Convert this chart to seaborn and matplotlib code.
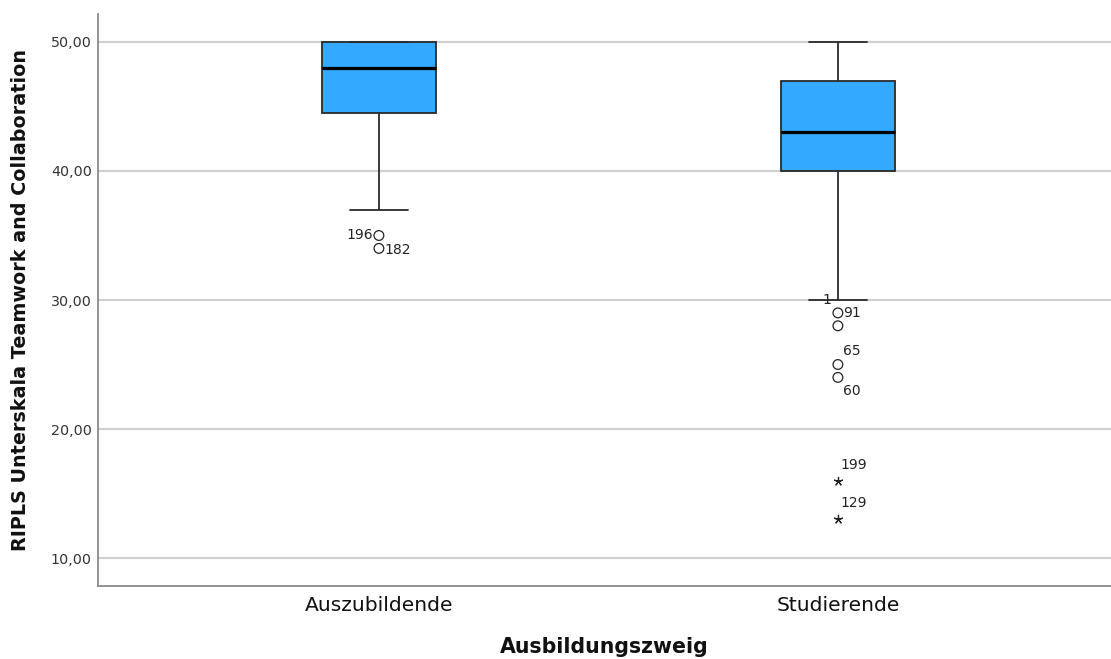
import matplotlib
matplotlib.use("Agg")
import matplotlib.pyplot as plt
import seaborn as sns
import pandas as pd
import numpy as np

# ---- data ----
categories = ["Auszubildende", "Studierende"]
scores_azubi = [34, 35, 37, 44.5, 46, 47, 48, 49, 50, 50, 50, 50, 50]
scores_stud = [13, 16, 24, 25, 28, 29, 30, 40, 40, 41, 41, 42, 42, 43, 43,
               43, 44, 44, 45, 45, 46, 47, 47, 48, 48, 49, 49, 50, 50]
# outliers (circles) and extremes (stars)
outlier_group = ["Auszubildende", "Auszubildende", "Studierende", "Studierende",
                 "Studierende", "Studierende"]
outlier_value = [35, 34, 29, 28, 25, 24]
extreme_group = ["Studierende", "Studierende"]
extreme_value = [16, 13]
# case labels
label_group = ["Auszubildende", "Auszubildende", "Studierende", "Studierende",
               "Studierende", "Studierende", "Studierende", "Studierende"]
label_value = [35, 34, 29, 29, 25, 24, 16, 13]
label_text = ["196", "182", "1", "91", "65", "60", "199", "129"]

yticks = [10, 20, 30, 40, 50]
ytick_labels = ["10,00", "20,00", "30,00", "40,00", "50,00"]

df = pd.DataFrame({
    "Ausbildungszweig": ["Auszubildende"] * len(scores_azubi) + ["Studierende"] * len(scores_stud),
    "score": scores_azubi + scores_stud,
})
df_out = pd.DataFrame({"g": outlier_group, "v": outlier_value})
df_ext = pd.DataFrame({"g": extreme_group, "v": extreme_value})

sns.set_theme(style="white")
plt.rcParams["font.family"] = ["DejaVu Sans"]

fig = plt.figure(figsize=(11.11, 6.59), dpi=100)
ax = fig.add_axes([98 / 1111, 1 - 586 / 659, 1 - 98 / 1111, (586 - 14) / 659])

ax.set_axisbelow(True)
for t in yticks:
    ax.axhline(t, color="#cfcfcf", lw=1.5, zorder=0)

box_color = "#33aaff"
sns.boxplot(data=df, x="Ausbildungszweig", y="score", order=categories,
            width=0.25, whis=1.5, showfliers=False, color=box_color,
            saturation=1, linecolor="#2a2a2a", linewidth=1.3,
            medianprops=dict(color="black", linewidth=2.3),
            ax=ax, zorder=2)

sns.stripplot(data=df_out, x="g", y="v", order=categories, jitter=False,
              marker="o", s=7, facecolor="none", edgecolor="#222222",
              linewidth=0.9, ax=ax, zorder=3)
sns.stripplot(data=df_ext, x="g", y="v", order=categories, jitter=False,
              marker=(5, 2, 0), s=6, color="#222222", linewidth=0.9,
              ax=ax, zorder=3)

offsets = {
    "196": (-4, 0, "right"),
    "182": (4, -1, "left"),
    "1": (-5, 9, "right"),
    "91": (4, 0, "left"),
    "65": (4, 10, "left"),
    "60": (4, -10, "left"),
    "199": (2, 11, "left"),
    "129": (2, 12, "left"),
}
for g, v, txt in zip(label_group, label_value, label_text):
    xi = categories.index(g)
    dx, dy, ha = offsets[txt]
    ax.annotate(txt, (xi, v), xytext=(dx, dy), textcoords="offset points",
                ha=ha, va="center", fontsize=10, color="#222222")

ax.set_xlim(-0.612, 1.595)
ax.set_ylim(7.83, 52.17)
ax.set_yticks(yticks)
ax.set_yticklabels(ytick_labels, fontsize=10.3, color="#333333")
ax.tick_params(axis="x", labelsize=14.6, colors="#111111", length=0, pad=7)
ax.tick_params(axis="y", length=0, pad=4.5)
ax.set_xlabel("Ausbildungszweig", fontsize=14.8, fontweight="bold", labelpad=16,
              color="#111111")
ax.set_ylabel("RIPLS Unterskala Teamwork and Collaboration", fontsize=13.8,
              fontweight="bold", labelpad=12, color="#111111")
ax.yaxis.set_label_coords(-0.067, 0.5)

for side in ["top", "right"]:
    ax.spines[side].set_visible(False)
for side in ["left", "bottom"]:
    ax.spines[side].set_color("#8a8a8a")
    ax.spines[side].set_linewidth(1.3)

fig.savefig("out.png", dpi=100)
